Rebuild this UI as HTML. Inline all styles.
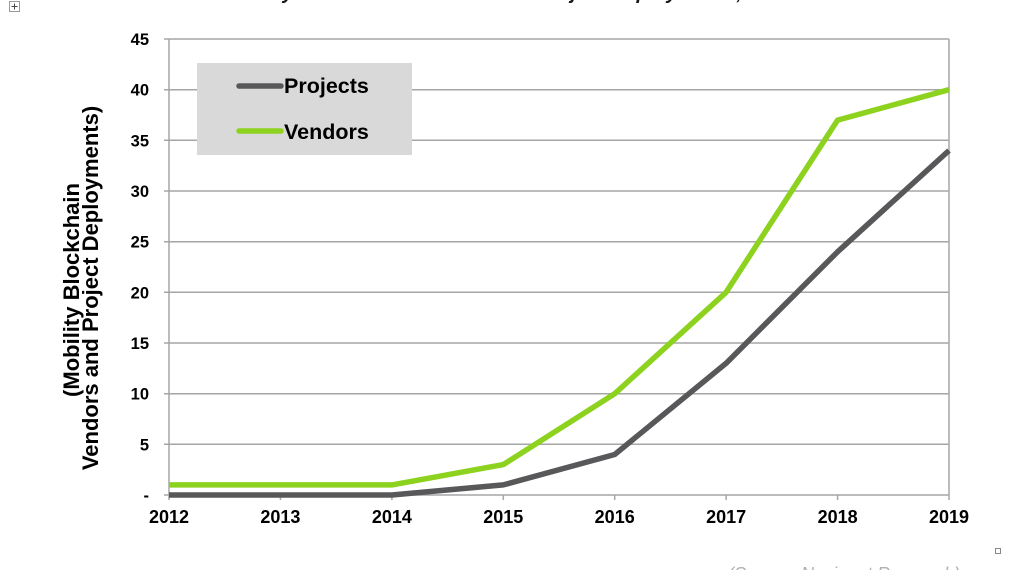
<!DOCTYPE html>
<html>
<head>
<meta charset="utf-8">
<style>
  html, body { margin: 0; padding: 0; background: #ffffff; }
  body { width: 1029px; height: 570px; overflow: hidden; position: relative; }
  svg { display: block; }
  text { font-family: "Liberation Sans", Arial, sans-serif; }
</style>
</head>
<body>
<svg width="1029" height="570" viewBox="0 0 1029 570" xmlns="http://www.w3.org/2000/svg">
  <rect x="0" y="0" width="1029" height="570" fill="#ffffff"/>

  <!-- clipped title (only descenders visible) -->
  <text x="560" y="-1" text-anchor="middle" font-size="20" font-weight="bold" font-style="italic" fill="#1a1a1a">Chart 1.1  Mobility Blockchain Vendors and Project Deployments, World Markets: 2012-2019</text>

  <!-- top-left move icon -->
  <rect x="9.5" y="1.5" width="10" height="10" fill="#ffffff" stroke="#9a9a9a" stroke-width="1"/>
  <path d="M14.5 3.5 V9.5 M11.5 6.5 H17.5" stroke="#444" stroke-width="1"/>

  <!-- gridlines -->
  <g stroke="#a6a6a6" stroke-width="1.5">
    <line x1="164" y1="39" x2="949" y2="39"/>
    <line x1="164" y1="89.7" x2="949" y2="89.7"/>
    <line x1="164" y1="140.3" x2="949" y2="140.3"/>
    <line x1="164" y1="191" x2="949" y2="191"/>
    <line x1="164" y1="241.7" x2="949" y2="241.7"/>
    <line x1="164" y1="292.3" x2="949" y2="292.3"/>
    <line x1="164" y1="343" x2="949" y2="343"/>
    <line x1="164" y1="393.7" x2="949" y2="393.7"/>
    <line x1="164" y1="444.3" x2="949" y2="444.3"/>
    <line x1="164" y1="495" x2="949" y2="495"/>
    <!-- axes / frame -->
    <line x1="169" y1="39" x2="169" y2="500"/>
    <line x1="949" y1="39" x2="949" y2="500"/>
    <!-- x ticks -->
    <line x1="280.4" y1="495" x2="280.4" y2="500"/>
    <line x1="391.9" y1="495" x2="391.9" y2="500"/>
    <line x1="503.3" y1="495" x2="503.3" y2="500"/>
    <line x1="614.7" y1="495" x2="614.7" y2="500"/>
    <line x1="726.1" y1="495" x2="726.1" y2="500"/>
    <line x1="837.6" y1="495" x2="837.6" y2="500"/>
  </g>

  <!-- y tick labels -->
  <g font-size="16.5" font-weight="bold" fill="#000" text-anchor="end">
    <text x="149" y="45">45</text>
    <text x="149" y="95.7">40</text>
    <text x="149" y="146.3">35</text>
    <text x="149" y="197">30</text>
    <text x="149" y="247.7">25</text>
    <text x="149" y="298.3">20</text>
    <text x="149" y="349">15</text>
    <text x="149" y="399.7">10</text>
    <text x="149" y="450.3">5</text>
    <text x="149" y="501">-</text>
  </g>

  <!-- x tick labels -->
  <g font-size="18" font-weight="bold" fill="#000" text-anchor="middle">
    <text x="169" y="523">2012</text>
    <text x="280.4" y="523">2013</text>
    <text x="391.9" y="523">2014</text>
    <text x="503.3" y="523">2015</text>
    <text x="614.7" y="523">2016</text>
    <text x="726.1" y="523">2017</text>
    <text x="837.6" y="523">2018</text>
    <text x="949" y="523">2019</text>
  </g>

  <!-- y axis title -->
  <g font-size="22" font-weight="bold" fill="#000" text-anchor="middle">
    <text transform="translate(79,290) rotate(-90)">(Mobility  Blockchain</text>
    <text transform="translate(98,288) rotate(-90)">Vendors and Project Deployments)</text>
  </g>

  <!-- series -->
  <polyline fill="none" stroke="#58585a" stroke-width="5.5" stroke-linejoin="round"
    points="169,495 280.4,495 391.9,495 503.3,484.9 614.7,454.5 726.1,363.3 837.6,251.8 949,150.5"/>
  <polyline fill="none" stroke="#8cd21e" stroke-width="5.5" stroke-linejoin="round"
    points="169,484.9 280.4,484.9 391.9,484.9 503.3,464.6 614.7,393.7 726.1,292.3 837.6,120.1 949,89.7"/>

  <!-- legend -->
  <rect x="197" y="63" width="215" height="92" fill="#d9d9d9"/>
  <line x1="239" y1="86" x2="281" y2="86" stroke="#58585a" stroke-width="5.5" stroke-linecap="round"/>
  <line x1="239" y1="131" x2="281" y2="131" stroke="#8cd21e" stroke-width="5.5" stroke-linecap="round"/>
  <g font-size="21.5" font-weight="bold" fill="#000">
    <text x="284" y="93">Projects</text>
    <text x="284" y="139">Vendors</text>
  </g>

  <!-- small square bottom right -->
  <rect x="995.5" y="548.5" width="5" height="5" fill="#ffffff" stroke="#888" stroke-width="1"/>

  <!-- clipped source text -->
  <text x="728" y="580" font-size="18" font-style="italic" fill="#b0b0b0">(Source: Navigant Research)</text>
</svg>
</body>
</html>
